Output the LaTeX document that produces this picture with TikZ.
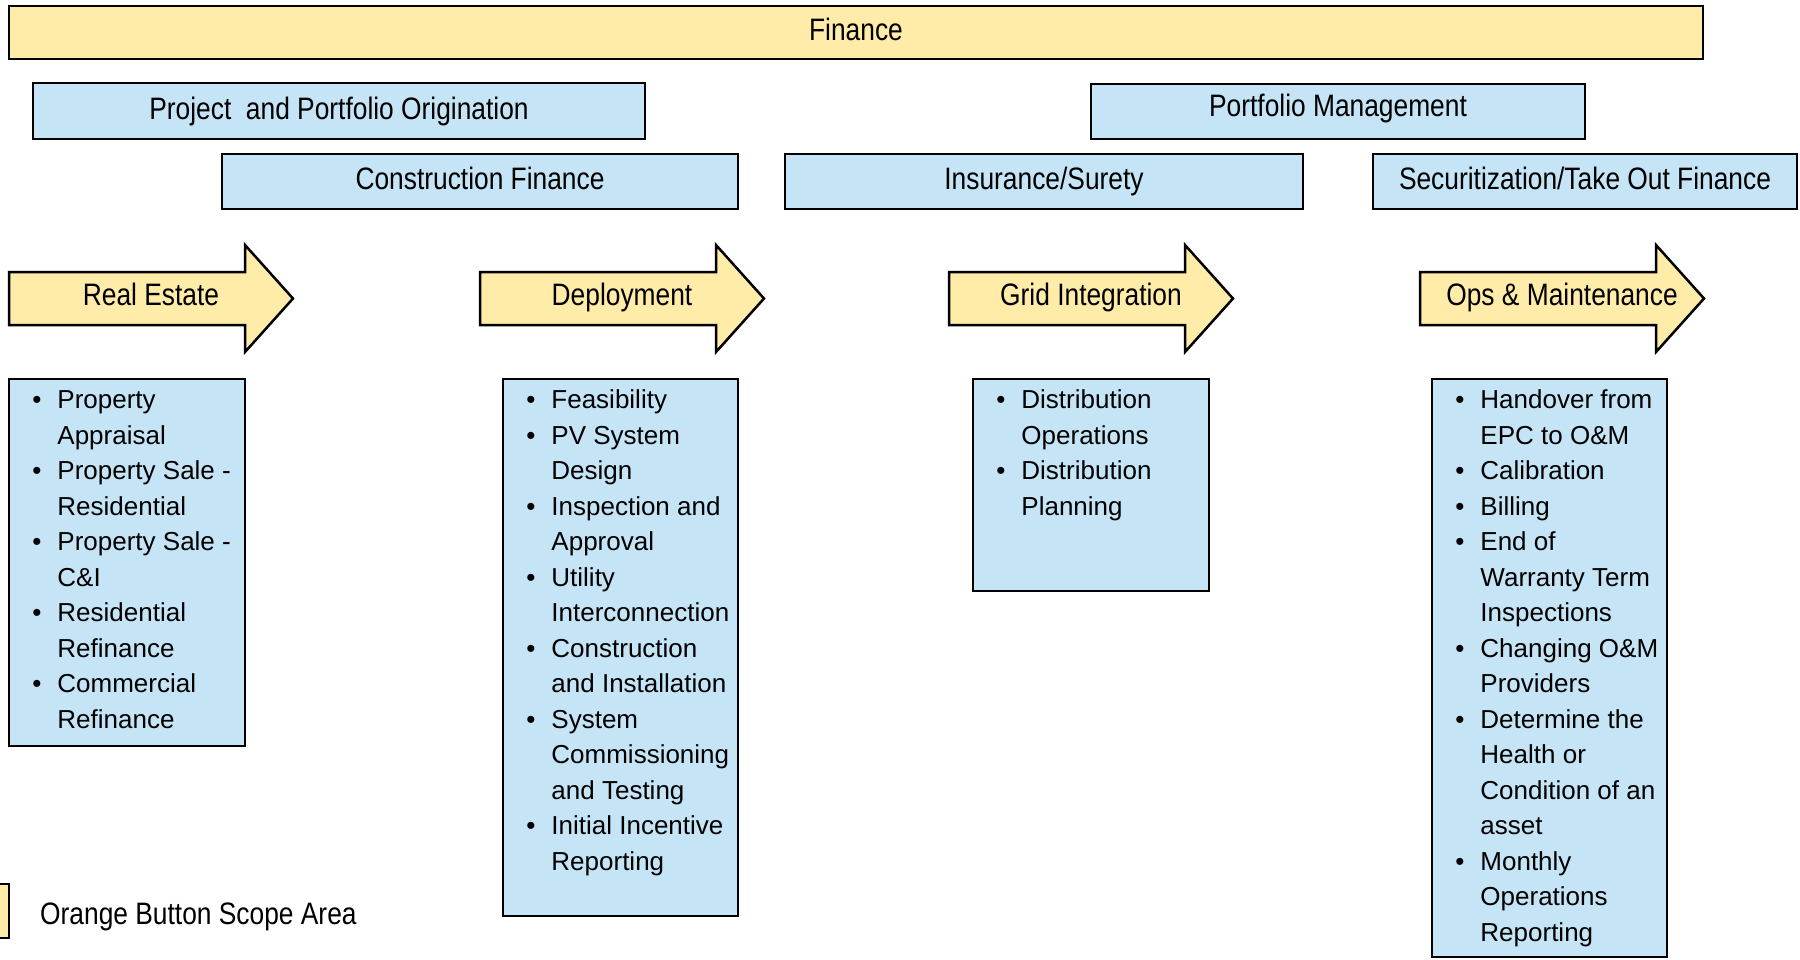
\documentclass[tikz,border=0pt]{standalone}
\usepackage{fontspec}
\setmainfont{Liberation Sans}
\newfontfamily\narrowfont[FakeStretch=0.85]{Liberation Sans}
\definecolor{ylw}{RGB}{255,236,168}
\definecolor{blu}{RGB}{197,228,245}
\tikzset{
  edge/.style={draw=black, line width=2.5pt},
  hdr/.style={edge, fill=blu, inner sep=0pt, text height=22pt, text depth=6pt,
    font=\narrowfont\fontsize{31}{36}\selectfont},
  finbox/.style={hdr, fill=ylw},
  arrowshape/.style={edge, fill=ylw, line join=miter},
  phaselabel/.style={inner sep=0pt, text height=22pt, text depth=6pt,
    font=\narrowfont\fontsize{31}{36}\selectfont},
  listbox/.style={edge, fill=blu, inner sep=0pt},
  listtxt/.style={inner sep=0pt, anchor=north west, align=left,
    font=\fontsize{26}{35.5}\selectfont},
}
\newcommand\phasearrow[3]{%
  \draw[arrowshape] (#1,272) -- ++(236,0) -- ++(0,-27) -- ++(48,53.5) -- ++(-48,53.5)
    -- ++(0,-27) -- ++(-236,0) -- cycle;
  \node[phaselabel] (#2) at (#1+142,297.5) {#3};
}
\begin{document}
\begin{tikzpicture}[x=1pt,y=-1pt]
\useasboundingbox (0,0) rectangle (1800,959);

% header bars
\node[finbox, minimum width=1694pt, minimum height=53pt] (fin) at (856,32.5) {Finance};
\node[hdr, minimum width=612pt, minimum height=56pt] (orig) at (339,111) {Project\ \ and Portfolio Origination};
\node[hdr, minimum width=494pt, minimum height=55pt, text depth=13pt] (pm) at (1338,111.5) {Portfolio Management};
\node[hdr, minimum width=516pt, minimum height=55pt] (cf) at (480,181.5) {Construction Finance};
\node[hdr, minimum width=518pt, minimum height=55pt] (ins) at (1044,181.5) {Insurance/Surety};
\node[hdr, minimum width=424pt, minimum height=55pt] (sec) at (1585,181.5) {Securitization/Take Out Finance};

% phase arrows
\phasearrow{9}{re}{Real Estate}
\phasearrow{480}{dep}{Deployment}
\phasearrow{949}{grid}{Grid Integration}
\phasearrow{1420}{om}{Ops \& Maintenance}

% list boxes
\node[listbox, minimum width=236pt, minimum height=367pt] (rebox) at (127,562.5) {};
\node[listtxt] (retxt) at ([xshift=24.5pt,yshift=-6.1pt]rebox.north west) {%
\begin{tabular}{@{}p{25pt}@{}l@{}}
\textbullet & Property\\
 & Appraisal\\
\textbullet & Property Sale -\\
 & Residential\\
\textbullet & Property Sale -\\
 & C\&I\\
\textbullet & Residential\\
 & Refinance\\
\textbullet & Commercial\\
 & Refinance
\end{tabular}};

\node[listbox, minimum width=235pt, minimum height=537pt] (depbox) at (620.5,647.5) {};
\node[listtxt] (deptxt) at ([xshift=24.5pt,yshift=-6.1pt]depbox.north west) {%
\begin{tabular}{@{}p{25pt}@{}l@{}}
\textbullet & Feasibility\\
\textbullet & PV System\\
 & Design\\
\textbullet & Inspection and\\
 & Approval\\
\textbullet & Utility\\
 & Interconnection\\
\textbullet & Construction\\
 & and Installation\\
\textbullet & System\\
 & Commissioning\\
 & and Testing\\
\textbullet & Initial Incentive\\
 & Reporting
\end{tabular}};

\node[listbox, minimum width=236pt, minimum height=212pt] (gridbox) at (1091,485) {};
\node[listtxt] (gridtxt) at ([xshift=24.5pt,yshift=-6.1pt]gridbox.north west) {%
\begin{tabular}{@{}p{25pt}@{}l@{}}
\textbullet & Distribution\\
 & Operations\\
\textbullet & Distribution\\
 & Planning
\end{tabular}};

\node[listbox, minimum width=235pt, minimum height=578pt] (ombox) at (1549.5,668) {};
\node[listtxt] (omtxt) at ([xshift=24.5pt,yshift=-6.1pt]ombox.north west) {%
\begin{tabular}{@{}p{25pt}@{}l@{}}
\textbullet & Handover from\\
 & EPC to O\&M\\
\textbullet & Calibration\\
\textbullet & Billing\\
\textbullet & End of\\
 & Warranty Term\\
 & Inspections\\
\textbullet & Changing O\&M\\
 & Providers\\
\textbullet & Determine the\\
 & Health or\\
 & Condition of an\\
 & asset\\
\textbullet & Monthly\\
 & Operations\\
 & Reporting
\end{tabular}};

% legend
\node[edge, fill=ylw, minimum width=20pt, minimum height=54pt, inner sep=0pt] (legbox) at (-1,911) {};
\node[phaselabel, anchor=west] (legtxt) at (40,916) {Orange Button Scope Area};
\end{tikzpicture}
\end{document}
